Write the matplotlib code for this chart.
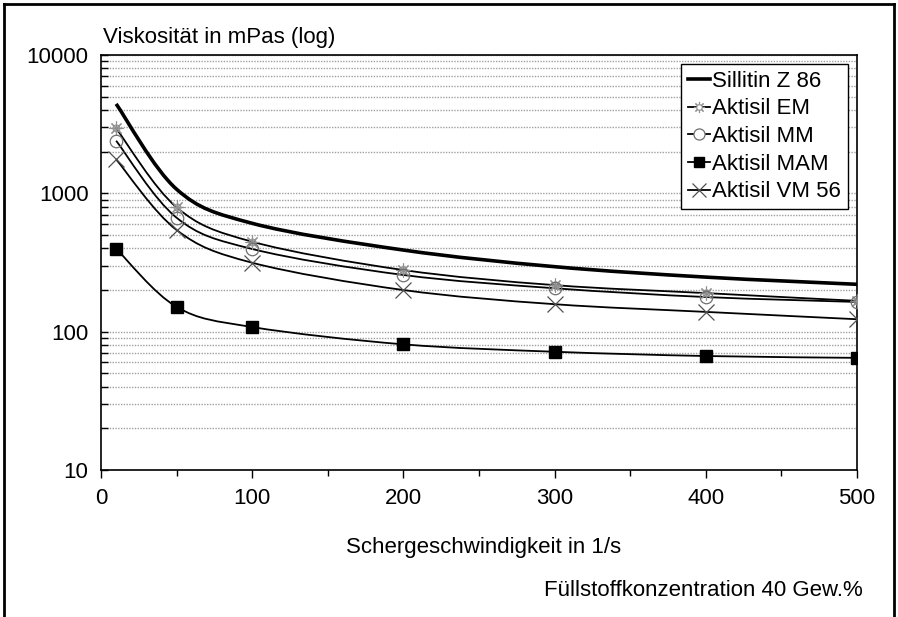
import numpy as np
import matplotlib.pyplot as plt
from matplotlib.path import Path
from matplotlib.patches import PathPatch
from matplotlib.lines import Line2D
from matplotlib.ticker import MultipleLocator, LogLocator, NullFormatter

plt.rcParams['font.family'] = ['Liberation Sans', 'DejaVu Sans']

shear = [10, 50, 100, 200, 300, 400, 500]
sillitin = [4430, 1070, 607, 389, 295, 248, 220]
em = [2950, 792, 447, 279, 217, 190, 167]
mm = [2400, 666, 396, 257, 206, 178, 164]
mam = [398, 151, 108, 81, 71.6, 66.7, 64.7]
vm = [1760, 543, 315, 200, 158, 139, 123]


def smooth_path(xs, ys):
    # Catmull-Rom as cubic Bezier in (x, log y) space
    x = np.asarray(xs, float)
    ly = np.log10(np.asarray(ys, float))
    px = np.concatenate([[x[0]], x, [x[-1]]])
    py = np.concatenate([[ly[0]], ly, [ly[-1]]])
    verts = [(x[0], 10 ** ly[0])]
    codes = [Path.MOVETO]
    for i in range(1, len(px) - 2):
        c1x = px[i] + (px[i + 1] - px[i - 1]) / 6
        c1y = py[i] + (py[i + 1] - py[i - 1]) / 6
        c2x = px[i + 1] - (px[i + 2] - px[i]) / 6
        c2y = py[i + 1] - (py[i + 2] - py[i]) / 6
        verts += [(c1x, 10 ** c1y), (c2x, 10 ** c2y), (px[i + 1], 10 ** py[i + 1])]
        codes += [Path.CURVE4] * 3
    return Path(verts, codes)


fig = plt.figure(figsize=(8.98, 6.17), dpi=100)
ax = fig.add_axes([0.1125, 0.2382, 0.8418, 0.6727])
ax.set_yscale('log')
ax.set_xlim(0, 500)
ax.set_ylim(10, 10000)

ax.grid(True, which='both', axis='y', color='#a0a0a0', linestyle=(0, (1, 1)), linewidth=1)
ax.set_axisbelow(True)

fs = 16
series = [
    (sillitin, 2.6),
    (em, 1.3),
    (mm, 1.3),
    (mam, 1.3),
    (vm, 1.3),
]
for ys, lw in series:
    ax.add_patch(PathPatch(smooth_path(shear, ys), fill=False, edgecolor='black',
                           linewidth=lw, zorder=3))

ax.plot(shear, em, linestyle='none', marker=(8, 2, 0), markersize=10,
        markeredgecolor='#909090', markeredgewidth=0.8, zorder=4)
ax.plot(shear, em, linestyle='none', marker='o', markersize=5,
        markerfacecolor='none', markeredgecolor='#909090', markeredgewidth=0.8, zorder=4)
ax.plot(shear, mm, linestyle='none', marker='o', markersize=9,
        markerfacecolor='none', markeredgecolor='#707070', markeredgewidth=0.9, zorder=4)
ax.plot(shear, mam, linestyle='none', marker='s', markersize=8,
        markerfacecolor='black', markeredgecolor='black', zorder=4)
ax.plot(shear, vm, linestyle='none', marker='x', markersize=11,
        markeredgecolor='#505050', markeredgewidth=0.9, zorder=4)

ax.yaxis.set_minor_locator(LogLocator(base=10, subs=np.arange(2, 10)))
ax.yaxis.set_minor_formatter(NullFormatter())
ax.set_yticks([10, 100, 1000, 10000])
ax.set_yticklabels(['10', '100', '1000', '10000'])
ax.xaxis.set_major_locator(MultipleLocator(100))
ax.xaxis.set_minor_locator(MultipleLocator(50))

ax.tick_params(axis='y', which='both', direction='in', length=5, width=1, pad=9,
               labelsize=fs)
ax.tick_params(axis='x', which='major', direction='out', length=6, width=1, pad=7,
               labelsize=fs)
ax.tick_params(axis='x', which='minor', direction='out', length=4, width=1)
for s in ax.spines.values():
    s.set_linewidth(1.2)
    s.set_color('black')

# legend
h_sil = Line2D([], [], color='black', linewidth=2.6)
h_em = (Line2D([], [], color='black', linewidth=1.3),
        Line2D([], [], linestyle='none', marker=(8, 2, 0), markersize=8,
               markeredgecolor='#909090', markeredgewidth=0.8),
        Line2D([], [], linestyle='none', marker='o', markersize=4,
               markerfacecolor='white', markeredgecolor='#909090', markeredgewidth=0.8))
h_mm = Line2D([], [], color='black', linewidth=1.3, marker='o', markersize=8,
              markerfacecolor='white', markeredgecolor='#707070', markeredgewidth=0.9)
h_mam = Line2D([], [], color='black', linewidth=1.3, marker='s', markersize=7,
               markerfacecolor='black', markeredgecolor='black')
h_vm = Line2D([], [], color='black', linewidth=1.3, marker='x', markersize=10,
              markeredgecolor='#505050', markeredgewidth=0.9)
leg = ax.legend([h_sil, h_em, h_mm, h_mam, h_vm],
                ['Sillitin Z 86', 'Aktisil EM', 'Aktisil MM', 'Aktisil MAM', 'Aktisil VM 56'],
                loc='upper right', bbox_to_anchor=(0.988, 0.978), fontsize=fs,
                frameon=True, fancybox=False, framealpha=1, edgecolor='black',
                handlelength=1.0, handletextpad=0.1, borderpad=0.3,
                labelspacing=0.3, borderaxespad=0)
leg.get_frame().set_linewidth(1.0)

fig.text(0.1147, 1 - 38 / 617, 'Viskosität in mPas (log)', fontsize=fs,
         ha='left', va='center')
fig.text(484 / 898, 1 - 547 / 617, 'Schergeschwindigkeit in 1/s', fontsize=fs,
         ha='center', va='center')
fig.text(863 / 898, 1 - 591 / 617, 'Füllstoffkonzentration 40 Gew.%', fontsize=fs,
         ha='right', va='center')

# outer frame (open at bottom)
for xs, ys in [([4 / 898, 4 / 898], [0, 1 - 4 / 617]),
               ([4 / 898, 894 / 898], [1 - 4 / 617, 1 - 4 / 617]),
               ([894 / 898, 894 / 898], [1 - 4 / 617, 0])]:
    fig.add_artist(Line2D(xs, ys, color='black', linewidth=2, transform=fig.transFigure))

fig.savefig('out.png', dpi=100)
